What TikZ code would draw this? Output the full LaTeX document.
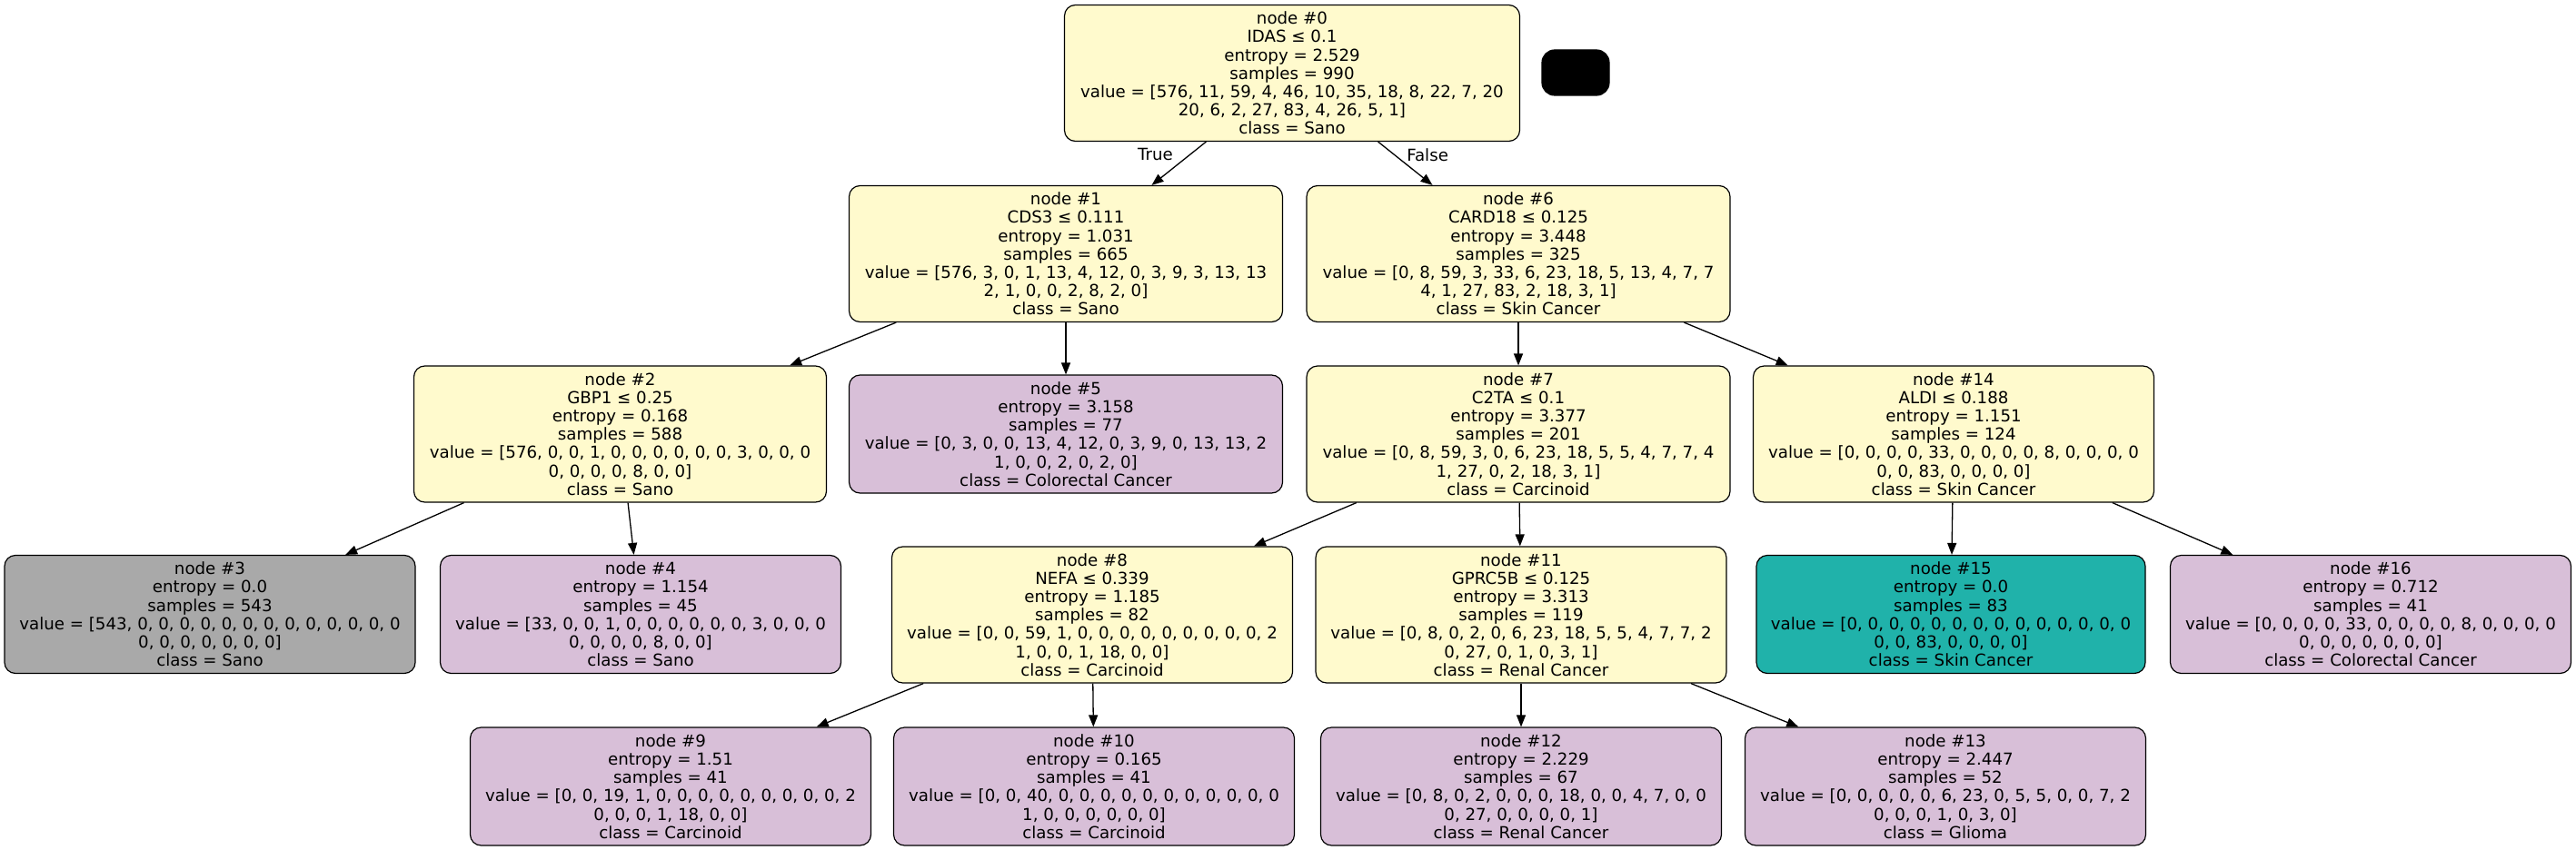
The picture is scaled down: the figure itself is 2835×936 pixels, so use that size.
\documentclass[tikz,border=0pt]{standalone}
\usepackage{fontspec}
\setmainfont{DejaVu Sans}
\usetikzlibrary{arrows.meta}
\definecolor{splitfill}{HTML}{FFFACD}
\definecolor{leafpurple}{HTML}{D8BFD8}
\definecolor{leafgray}{HTML}{A9A9A9}
\definecolor{leafteal}{HTML}{20B2AA}

\begin{document}
\begin{tikzpicture}[
  x=1pt, y=-1pt,
  font=\fontsize{18.2}{20.2}\selectfont,
  tnode/.style={draw, rounded corners=12pt, align=center, inner sep=0pt,
                line width=1.2pt},
  split/.style={tnode, fill=splitfill, minimum height=150pt},
  leaf/.style={tnode, fill=leafpurple, minimum height=130pt},
  link/.style={->, line width=1.3pt},
  lbl/.style={inner sep=0pt},
  >={Triangle[length=13pt,width=10pt]}]
\useasboundingbox (0,0) rectangle (2835,936);
% depth 0
\node[split, minimum width=501pt] (n0) at (1422,80.5)
      {node \#0\\IDAS ≤ 0.1\\entropy = 2.529\\samples = 990\\
       value = [576, 11, 59, 4, 46, 10, 35, 18, 8, 22, 7, 20\\
       20, 6, 2, 27, 83, 4, 26, 5, 1]\\class = Sano};
\node[tnode, fill=black, minimum width=74pt, minimum height=50pt,
      rounded corners=14pt] (key) at (1734,80) {};
% depth 1
\node[split, minimum width=477pt] (n1) at (1173,279.5)
      {node \#1\\CDS3 ≤ 0.111\\entropy = 1.031\\samples = 665\\
       value = [576, 3, 0, 1, 13, 4, 12, 0, 3, 9, 3, 13, 13\\
       2, 1, 0, 0, 2, 8, 2, 0]\\class = Sano};
\node[split, minimum width=466pt] (n6) at (1671,279.5)
      {node \#6\\CARD18 ≤ 0.125\\entropy = 3.448\\samples = 325\\
       value = [0, 8, 59, 3, 33, 6, 23, 18, 5, 13, 4, 7, 7\\
       4, 1, 27, 83, 2, 18, 3, 1]\\class = Skin Cancer};
% depth 2
\node[split, minimum width=454pt] (n2) at (682.5,478)
      {node \#2\\GBP1 ≤ 0.25\\entropy = 0.168\\samples = 588\\
       value = [576, 0, 0, 1, 0, 0, 0, 0, 0, 0, 3, 0, 0, 0\\
       0, 0, 0, 0, 8, 0, 0]\\class = Sano};
\node[leaf, minimum width=477pt] (n5) at (1173,478)
      {node \#5\\entropy = 3.158\\samples = 77\\
       value = [0, 3, 0, 0, 13, 4, 12, 0, 3, 9, 0, 13, 13, 2\\
       1, 0, 0, 2, 0, 2, 0]\\class = Colorectal Cancer};
\node[split, minimum width=466pt] (n7) at (1671,478)
      {node \#7\\C2TA ≤ 0.1\\entropy = 3.377\\samples = 201\\
       value = [0, 8, 59, 3, 0, 6, 23, 18, 5, 5, 4, 7, 7, 4\\
       1, 27, 0, 2, 18, 3, 1]\\class = Carcinoid};
\node[split, minimum width=441pt] (n14) at (2150,478)
      {node \#14\\ALDI ≤ 0.188\\entropy = 1.151\\samples = 124\\
       value = [0, 0, 0, 0, 33, 0, 0, 0, 0, 8, 0, 0, 0, 0\\
       0, 0, 83, 0, 0, 0, 0]\\class = Skin Cancer};
% depth 3
\node[leaf, fill=leafgray, minimum width=452pt] (n3) at (231,676.5)
      {node \#3\\entropy = 0.0\\samples = 543\\
       value = [543, 0, 0, 0, 0, 0, 0, 0, 0, 0, 0, 0, 0, 0\\
       0, 0, 0, 0, 0, 0, 0]\\class = Sano};
\node[leaf, minimum width=441pt] (n4) at (705,676.5)
      {node \#4\\entropy = 1.154\\samples = 45\\
       value = [33, 0, 0, 1, 0, 0, 0, 0, 0, 0, 3, 0, 0, 0\\
       0, 0, 0, 0, 8, 0, 0]\\class = Sano};
\node[split, minimum width=441pt] (n8) at (1202,677)
      {node \#8\\NEFA ≤ 0.339\\entropy = 1.185\\samples = 82\\
       value = [0, 0, 59, 1, 0, 0, 0, 0, 0, 0, 0, 0, 0, 2\\
       1, 0, 0, 1, 18, 0, 0]\\class = Carcinoid};
\node[split, minimum width=452pt] (n11) at (1674,677)
      {node \#11\\GPRC5B ≤ 0.125\\entropy = 3.313\\samples = 119\\
       value = [0, 8, 0, 2, 0, 6, 23, 18, 5, 5, 4, 7, 7, 2\\
       0, 27, 0, 1, 0, 3, 1]\\class = Renal Cancer};
\node[leaf, fill=leafteal, minimum width=428pt] (n15) at (2147,676.5)
      {node \#15\\entropy = 0.0\\samples = 83\\
       value = [0, 0, 0, 0, 0, 0, 0, 0, 0, 0, 0, 0, 0, 0\\
       0, 0, 83, 0, 0, 0, 0]\\class = Skin Cancer};
\node[leaf, minimum width=441pt] (n16) at (2609,676.5)
      {node \#16\\entropy = 0.712\\samples = 41\\
       value = [0, 0, 0, 0, 33, 0, 0, 0, 0, 8, 0, 0, 0, 0\\
       0, 0, 0, 0, 0, 0, 0]\\class = Colorectal Cancer};
% depth 4
\node[leaf, minimum width=441pt] (n9) at (738,866)
      {node \#9\\entropy = 1.51\\samples = 41\\
       value = [0, 0, 19, 1, 0, 0, 0, 0, 0, 0, 0, 0, 0, 2\\
       0, 0, 0, 1, 18, 0, 0]\\class = Carcinoid};
\node[leaf, minimum width=441pt] (n10) at (1204,866)
      {node \#10\\entropy = 0.165\\samples = 41\\
       value = [0, 0, 40, 0, 0, 0, 0, 0, 0, 0, 0, 0, 0, 0\\
       1, 0, 0, 0, 0, 0, 0]\\class = Carcinoid};
\node[leaf, minimum width=441pt] (n12) at (1674,866)
      {node \#12\\entropy = 2.229\\samples = 67\\
       value = [0, 8, 0, 2, 0, 0, 0, 18, 0, 0, 4, 7, 0, 0\\
       0, 27, 0, 0, 0, 0, 1]\\class = Renal Cancer};
\node[leaf, minimum width=441pt] (n13) at (2141,866)
      {node \#13\\entropy = 2.447\\samples = 52\\
       value = [0, 0, 0, 0, 0, 6, 23, 0, 5, 5, 0, 0, 7, 2\\
       0, 0, 0, 1, 0, 3, 0]\\class = Glioma};
% edges
\draw[link] (n0) -- node[lbl, pos=0.3, left=18pt] {True} (n1);
\draw[link] (n0) -- node[lbl, pos=0.3, right=13pt] {False} (n6);
\draw[link] (n1) -- (n2);
\draw[link] (n1) -- (n5);
\draw[link] (n2) -- (n3);
\draw[link] (n2) -- (n4);
\draw[link] (n6) -- (n7);
\draw[link] (n6) -- (n14);
\draw[link] (n7) -- (n8);
\draw[link] (n7) -- (n11);
\draw[link] (n8) -- (n9);
\draw[link] (n8) -- (n10);
\draw[link] (n11) -- (n12);
\draw[link] (n11) -- (n13);
\draw[link] (n14) -- (n15);
\draw[link] (n14) -- (n16);
\end{tikzpicture}
\end{document}
